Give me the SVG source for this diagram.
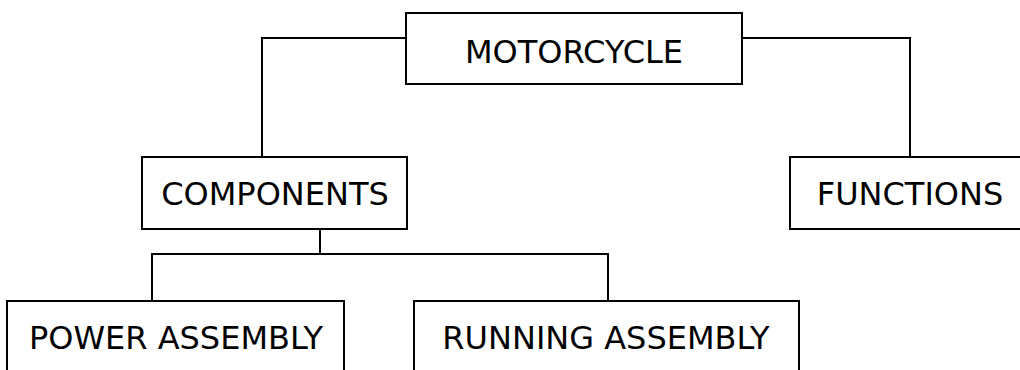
<svg xmlns="http://www.w3.org/2000/svg" width="1020" height="370" viewBox="0 0 1020 370">
<style>
.box{fill:#fff;stroke:#000;stroke-width:2}
.lbl{font-family:"DejaVu Sans",Verdana,sans-serif;font-size:32px;fill:#000;text-anchor:middle}
.con{fill:none;stroke:#000;stroke-width:2}
</style>
<rect width="1020" height="370" fill="#fff"/>
<g id="connectors">
<path class="con" d="M406,38 H262 V157"/>
<path class="con" d="M742,38 H910 V157"/>
<path class="con" d="M320,229 V254"/>
<path class="con" d="M152,301 V254 H608 V301"/>
</g>
<g id="motorcycle">
<rect class="box" x="406" y="13" width="336" height="71"/>
<text class="lbl" x="574" y="63">MOTORCYCLE</text>
</g>
<g id="components">
<rect class="box" x="142" y="157" width="265" height="72"/>
<text class="lbl" x="275" y="205">COMPONENTS</text>
</g>
<g id="functions">
<rect class="box" x="790" y="157" width="250" height="72"/>
<text class="lbl" x="910" y="205">FUNCTIONS</text>
</g>
<g id="power-assembly">
<rect class="box" x="7" y="301" width="337" height="80"/>
<text class="lbl" x="176" y="349">POWER ASSEMBLY</text>
</g>
<g id="running-assembly">
<rect class="box" x="414" y="301" width="385" height="80"/>
<text class="lbl" x="606" y="349">RUNNING ASSEMBLY</text>
</g>
</svg>
